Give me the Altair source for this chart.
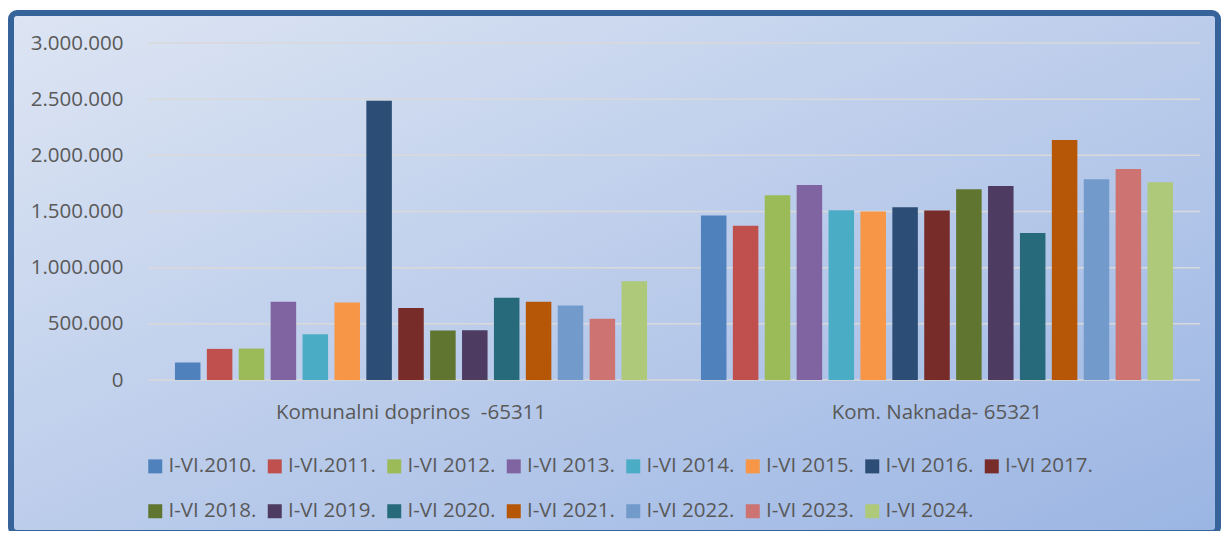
import altair as alt
import pandas as pd

categories = ["Komunalni doprinos \u00a0-65311", "Kom. Naknada- 65321"]
years = ["I-VI.2010.", "I-VI.2011.", "I-VI 2012.", "I-VI 2013.", "I-VI 2014.",
         "I-VI 2015.", "I-VI 2016.", "I-VI 2017.", "I-VI 2018.", "I-VI 2019.",
         "I-VI 2020.", "I-VI 2021.", "I-VI 2022.", "I-VI 2023.", "I-VI 2024."]
doprinos = [155000, 277000, 280000, 696000, 408000, 690000, 2485000, 640000,
            440000, 442000, 732000, 696000, 664000, 545000, 878000]
naknada = [1464000, 1373000, 1645000, 1737000, 1512000, 1500000, 1538000, 1509000,
           1698000, 1728000, 1308000, 2136000, 1787000, 1879000, 1760000]
palette = ["#4F81BD", "#C0504D", "#9BBB59", "#8064A2", "#4BACC6", "#F79646",
           "#2C4D75", "#772C2A", "#5F7530", "#4D3B62", "#276A7C", "#B65708",
           "#729ACA", "#CD7371", "#AFC97A"]
y_ticks = [0, 500000, 1000000, 1500000, 2000000, 2500000, 3000000]

rows = []
for cat, vals in zip(categories, [doprinos, naknada]):
    for yr, v in zip(years, vals):
        rows.append({"category": cat, "year": yr, "value": v})
df = pd.DataFrame(rows)
ticks_df = pd.DataFrame({"tick": y_ticks})

W, H = 1052, 337
FONT = "Open Sans"
TXT = "#595959"

yscale = alt.Scale(domain=[0, 3000000])
yaxis = alt.Axis(values=y_ticks, domain=False, ticks=False, grid=False,
                 labelPadding=25, labelFontSize=20.5, labelColor=TXT,
                 labelFont=FONT, title=None, zindex=1)

bg = alt.Chart(pd.DataFrame({"k": [0]})).mark_rect(
    fill=alt.LinearGradient(
        gradient="linear",
        stops=[alt.GradientStop(color="#DDE5F3", offset=0),
               alt.GradientStop(color="#9BB5E3", offset=1)],
        x1=0, y1=0, x2=1, y2=1),
    stroke="#36649A", strokeWidth=6, cornerRadius=6,
).encode(x=alt.value(-137), x2=alt.value(1070), y=alt.value(-30), y2=alt.value(490))

grid = alt.Chart(ticks_df).mark_rule(color="#D9D9D9", strokeWidth=1.5).encode(
    y=alt.Y("tick:Q", scale=yscale, axis=yaxis),
    x=alt.value(0), x2=alt.value(W),
)

bars = alt.Chart(df).mark_bar().encode(
    x=alt.X("category:N", sort=categories,
            scale=alt.Scale(paddingInner=0, paddingOuter=0),
            axis=alt.Axis(labelAngle=0, domain=False, ticks=False, title=None,
                          labelPadding=32, labelBaseline="middle", labelLimit=0,
                          labelFontSize=20.5, labelColor=TXT, labelFont=FONT,
                          zindex=1)),
    xOffset=alt.XOffset("year:N", sort=years,
                        scale=alt.Scale(paddingInner=0.2, paddingOuter=0.845)),
    y=alt.Y("value:Q", scale=yscale, axis=yaxis),
    color=alt.Color("year:N", sort=years,
                    scale=alt.Scale(domain=years, range=palette),
                    legend=alt.Legend(orient="none", legendX=-3, legendY=413,
                                      direction="horizontal", columns=8,
                                      symbolType="square", symbolSize=196,
                                      symbolStrokeWidth=0, labelFontSize=20.5,
                                      labelFont=FONT, labelColor=TXT,
                                      labelOffset=3, columnPadding=7.5,
                                      rowPadding=24, gridAlign="all",
                                      padding=0, title=None, zindex=1)),
)

chart = alt.layer(bg, grid, bars).properties(
    width=W, height=H,
    autosize=alt.AutoSizeParams(type="none"),
    padding={"left": 140, "top": 35, "right": 21, "bottom": 151},
    background="white",
).configure_view(stroke=None).configure(
    locale=alt.Locale(number=alt.NumberLocale(decimal=",", thousands=".",
                                              grouping=[3], currency=["", ""]))
)

chart.save("out.html", embed_options={"renderer": "svg", "actions": False})
